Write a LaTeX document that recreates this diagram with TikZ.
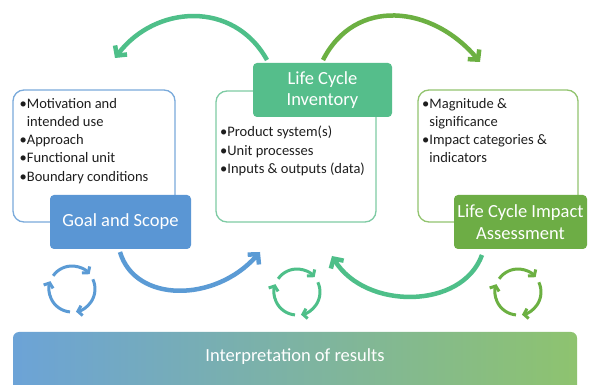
\documentclass[tikz,border=0pt]{standalone}
\usepackage{fontspec}
\setmainfont{Carlito}
\usetikzlibrary{arrows.meta,calc}

\definecolor{gsblue}{HTML}{5A96D4}
\definecolor{gsline}{HTML}{7AAADB}
\definecolor{lcigreen}{HTML}{55BE8B}
\definecolor{lciline}{HTML}{7ECBA4}
\definecolor{lciagreen}{HTML}{6DAD45}
\definecolor{lcialine}{HTML}{92C46F}
\definecolor{arcblue}{HTML}{5B9BD5}
\definecolor{arcteal}{HTML}{4EBF89}
\definecolor{arcgreen}{HTML}{6CB042}
\definecolor{barleft}{HTML}{6CA3D7}
\definecolor{barmid}{HTML}{6DC59B}
\definecolor{barright}{HTML}{8EC36F}
\definecolor{bodytext}{HTML}{1E1E1E}

\tikzset{
  frame/.style={draw, line width=1.3pt, rounded corners=11pt, fill=white},
  stage/.style={rounded corners=4pt, text=white, align=center, inner sep=2pt,
    font=\fontsize{18.5}{21.5}\selectfont},
  bullets/.style={anchor=north west, inner sep=0pt, align=left, text=bodytext,
    font=\fontsize{14.5}{18.2}\selectfont},
  flow/.style={line width=4.5pt, -{Straight Barb[length=7pt,width=15pt]}},
  spin/.style={line width=3pt, -{Straight Barb[length=4pt,width=10pt]}},
  recyc/.pic={
    \begin{scope}[x=1pt,y=1pt]
    \foreach \a in {0,120,240}
      \draw[spin] (\a+145:23) arc[start angle=\a+145, end angle=\a+40, radius=23];
    \end{scope}
  }
}

\begin{document}
\begin{tikzpicture}[x=1pt,y=-1pt]
\useasboundingbox (0,0) rectangle (590,385);
\fill[white] (0,0) rectangle (590,385);

% outlined content boxes
\node[frame, draw=gsline, minimum width=162pt, minimum height=132pt] (gsframe) at (94,156) {};
\node[frame, draw=lciline, minimum width=160pt, minimum height=131pt] (lciframe) at (296,156.5) {};
\node[frame, draw=lcialine, minimum width=160pt, minimum height=132pt] (lciaframe) at (498,156) {};

% bullet lists
\node[bullets] (gslist) at (19.5,98) {\textbullet Motivation and\\
  \phantom{\textbullet}intended use\\
  \textbullet Approach\\
  \textbullet Functional unit\\
  \textbullet Boundary conditions};
\node[bullets] (lcilist) at (220,126) {\textbullet Product system(s)\\
  \textbullet Unit processes\\
  \textbullet Inputs \& outputs (data)};
\node[bullets] (lcialist) at (422,98) {\textbullet Magnitude \&\\
  \phantom{\textbullet}significance\\
  \textbullet Impact categories \&\\
  \phantom{\textbullet}indicators};

% stage boxes
\node[stage, fill=gsblue, minimum width=141pt, minimum height=54pt] (gs) at (120.5,222) {Goal and Scope};
\node[stage, fill=lcigreen, minimum width=139pt, minimum height=54pt] (lci) at (322.5,90) {Life Cycle\\Inventory};
\node[stage, fill=lciagreen, minimum width=133pt, minimum height=54pt] (lcia) at (520.5,222) {Life Cycle Impact\\Assessment};

% interpretation bar
\node[left color=barleft, middle color=barmid, right color=barright,
  rounded corners=6pt, minimum width=564pt, minimum height=66pt] (interp) at (295,365) {};
\node[text=white, font=\fontsize{18.5}{21.5}\selectfont, inner sep=0pt]
  (interptext) at ($(interp.north)+(0,25)$) {Interpretation of results};

% loose ends of the flow arrows
\coordinate (tlA) at (267,60);
\coordinate (tlB) at (115,58);
\coordinate (trA) at (323,60);
\coordinate (trB) at (480,62);
\coordinate (blA) at (120,252);
\coordinate (blB) at (260,252);
\coordinate (brA) at (482,255);
\coordinate (brB) at (332,256);

% flow arrows
\draw[flow, arcteal] (tlA) .. controls (233.6,-0.2) and (155,5) .. (tlB);
\draw[flow, arcgreen] (trA) .. controls (355,-3) and (432,5) .. (trB);
\draw[flow, arcblue] (blA) .. controls (135,303) and (215,303) .. (blB);
\draw[flow, arcteal] (brA) .. controls (462,310) and (365,310) .. (brB);

% iteration symbols
\pic[color=arcblue] at (72,289) {recyc};
\pic[color=arcteal] at (297,292) {recyc};
\pic[color=arcgreen] at (518,292) {recyc};
\end{tikzpicture}
\end{document}
